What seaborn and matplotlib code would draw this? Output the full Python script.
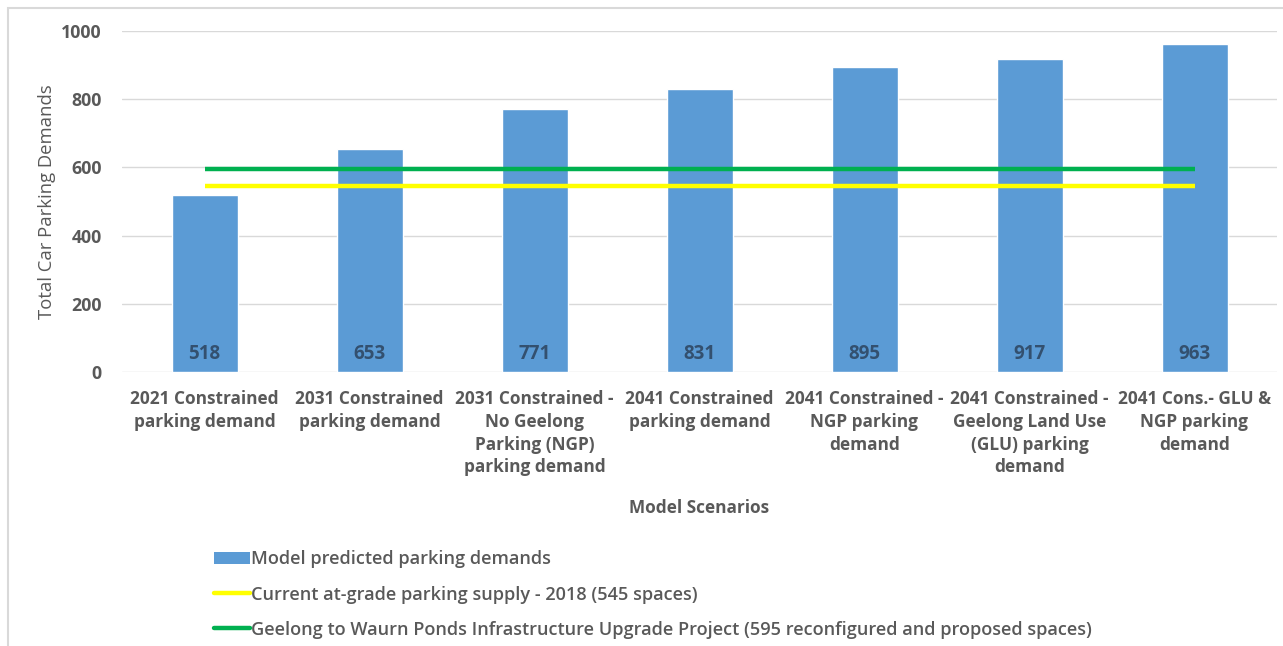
import matplotlib
matplotlib.use("Agg")
import matplotlib.pyplot as plt
import seaborn as sns
import pandas as pd
from matplotlib.patches import Patch, Rectangle
from matplotlib.lines import Line2D

scenarios = [
    "2021 Constrained\nparking demand",
    "2031 Constrained\nparking demand",
    "2031 Constrained -\nNo Geelong\nParking (NGP)\nparking demand",
    "2041 Constrained\nparking demand",
    "2041 Constrained -\nNGP parking\ndemand",
    "2041 Constrained -\nGeelong Land Use\n(GLU) parking\ndemand",
    "2041 Cons.- GLU &\nNGP parking\ndemand",
]
demand = [518, 653, 771, 831, 895, 917, 963]
current_supply = 545
upgrade_supply = 595
y_ticks = [0, 200, 400, 600, 800, 1000]

legend_labels = [
    "Model predicted parking demands",
    "Current at-grade parking supply - 2018 (545 spaces)",
    "Geelong to Waurn Ponds Infrastructure Upgrade Project (595 reconfigured and proposed spaces)",
]

BAR = "#5B9BD5"
YELLOW = "#FFFF00"
GREEN = "#00B050"
TXT = "#595959"

sns.set_theme(style="white")
plt.rcParams["font.family"] = ["Open Sans", "DejaVu Sans"]

fig = plt.figure(figsize=(12.83, 6.46), dpi=100)
ax = fig.add_axes([122 / 1283, 1 - 372 / 646, 1155 / 1283, 341 / 646])

# outer chart frame
fig.patches.append(Rectangle((8 / 1283, -0.05), 1.1, 1 - 8 / 646 + 0.05,
                             transform=fig.transFigure, fill=False,
                             edgecolor="#D9D9D9", linewidth=1.5))

df = pd.DataFrame({"scenario": scenarios, "demand": demand})
sns.barplot(data=df, x="scenario", y="demand", color=BAR, width=0.4,
            saturation=1, ax=ax, zorder=3)

xs = list(range(len(scenarios)))
ax.plot(xs, [current_supply] * len(xs), color=YELLOW, lw=3.2, zorder=4,
        solid_capstyle="butt")
ax.plot(xs, [upgrade_supply] * len(xs), color=GREEN, lw=3.2, zorder=4,
        solid_capstyle="butt")

for x, v in zip(xs, demand):
    ax.text(x, 52, f"{v}", ha="center", va="center", fontsize=13.5,
            fontweight="bold", color="#33506F", zorder=5)

ax.set_xlim(-0.5, len(scenarios) - 0.5)
ax.set_ylim(0, 1000)
ax.set_yticks(y_ticks)
ax.yaxis.grid(True, color="#D9D9D9", lw=1)
ax.set_axisbelow(True)
for s in ax.spines.values():
    s.set_visible(False)
ax.tick_params(axis="both", length=0)
ax.tick_params(axis="y", pad=14.5, labelsize=12.8, labelcolor=TXT)
ax.tick_params(axis="x", pad=13, labelsize=12.4, labelcolor=TXT)
for lab in ax.get_yticklabels() + ax.get_xticklabels():
    lab.set_fontweight("bold")
for lab in ax.get_xticklabels():
    lab.set_linespacing(1.34)
    lab.set_verticalalignment("top")

ax.set_xlabel("Model Scenarios", fontsize=12.4, fontweight="bold",
              color=TXT, labelpad=16)
ax.set_ylabel("Total Car Parking Demands", fontsize=13.3, color=TXT,
              labelpad=4)

handles = [
    Patch(facecolor=BAR, edgecolor="none"),
    Line2D([], [], color=YELLOW, lw=3.2),
    Line2D([], [], color=GREEN, lw=3.2),
]
leg = fig.legend(handles, legend_labels, loc="upper left",
                 bbox_to_anchor=(207 / 1283, 1 - 543 / 646), frameon=False,
                 fontsize=13.1, handlelength=1.95, handletextpad=0.08,
                 labelspacing=0.95, borderaxespad=0)
for t in leg.get_texts():
    t.set_color(TXT)
    t.set_fontweight("semibold")

fig.savefig("out.png", dpi=100, facecolor="white")
